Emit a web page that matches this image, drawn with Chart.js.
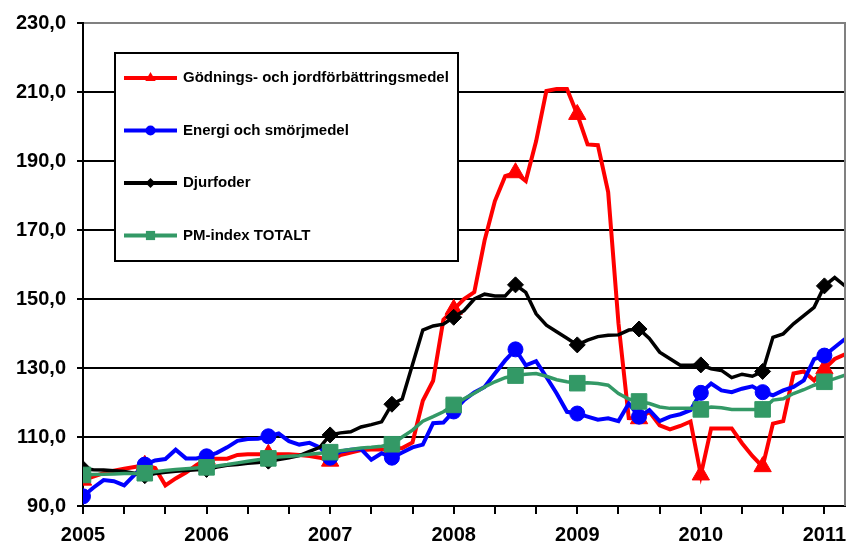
<!DOCTYPE html>
<html>
<head>
<meta charset="utf-8">
<title>Prisindex produktionsmedel</title>
<script src="https://cdn.jsdelivr.net/npm/chart.js@4.4.0/dist/chart.umd.min.js"></script>
<style>
  html, body { margin: 0; padding: 0; background: #fff; }
  #wrap { width: 851px; height: 544px; }
</style>
</head>
<body>
<div id="wrap"><canvas id="pmChart" width="851" height="544"></canvas></div>
<script>
(function() {

  // Monthly index values, Jan 2005 .. Mar 2011 (75 months)
  const yearLabels = ["2005", "2006", "2007", "2008", "2009", "2010", "2011"];
  const seriesNames = [
    "Gödnings- och jordförbättringsmedel",
    "Energi och smörjmedel",
    "Djurfoder",
    "PM-index TOTALT"
  ];

  const godning = [
    97.5, 98.5, 99.5, 100.2, 100.8, 101.3, 101.8, 101.0, 96.0, 98.0, 99.7, 101.8,
    103.6, 103.7, 103.7, 104.8, 105.0, 105.0, 105.0, 105.0, 105.0, 104.8, 104.5, 104.0,
    103.0, 104.8, 105.5, 106.2, 106.4, 106.4, 106.4, 106.8, 108.4, 120.5, 126.3, 144.0,
    147.0, 150.0, 152.0, 167.0, 178.4, 185.6, 186.6, 184.2, 195.7, 210.3, 210.9, 210.9,
    203.5, 194.8, 194.6, 181.0, 143.0, 115.5, 115.3, 117.3, 113.4, 112.2, 113.2, 114.5,
    99.0, 112.5, 112.5, 112.5, 108.2, 104.5, 101.4, 113.9, 114.6, 128.4, 129.0, 126.4,
    129.8, 132.6, 134.0
  ];

  const energi = [
    92.8, 95.3, 97.5, 97.2, 96.0, 99.0, 102.0, 103.2, 103.6, 106.3, 103.8, 103.8,
    104.4, 105.4, 107.0, 108.9, 109.4, 109.5, 110.2, 111.0, 108.8, 107.8, 108.3, 107.0,
    104.0, 105.8, 106.3, 106.5, 103.4, 105.3, 104.0, 105.5, 107.0, 107.8, 114.0, 114.2,
    117.4, 120.7, 122.9, 124.5, 128.4, 132.2, 135.4, 130.8, 132.0, 127.4, 122.6, 117.3,
    116.8, 115.9, 115.0, 115.4, 114.6, 119.7, 115.9, 117.8, 114.6, 115.9, 116.6, 117.8,
    122.8, 125.5, 123.5, 123.0, 124.0, 124.7, 123.0, 122.1, 123.5, 124.5, 126.4, 132.6,
    133.6, 136.0, 138.4
  ];

  const djurfoder = [
    100.8, 100.5, 100.4, 100.2, 100.0, 99.5, 98.8, 99.4, 99.8, 100.1, 100.3, 100.5,
    100.6, 101.3, 101.8, 102.0, 102.4, 102.6, 103.0, 103.5, 104.0, 104.6, 105.8, 107.0,
    110.6, 111.2, 111.5, 112.9, 113.6, 114.4, 119.5, 121.0, 131.0, 141.0, 142.2, 142.7,
    144.7, 146.6, 150.0, 151.4, 150.9, 150.9, 154.1, 151.9, 145.7, 142.4, 140.5, 138.6,
    136.7, 138.1, 139.1, 139.5, 139.6, 141.0, 141.3, 138.6, 134.6, 132.7, 130.8, 130.8,
    130.9, 129.8, 129.3, 127.2, 128.2, 127.6, 129.0, 138.9, 139.9, 142.8, 145.2, 147.6,
    153.8, 156.2, 153.8
  ];

  const pmTotalt = [
    99.0, 99.1, 99.2, 99.3, 99.4, 99.4, 99.5, 99.9, 100.3, 100.6, 100.8, 101.0,
    101.2, 101.6, 102.0, 102.5, 103.0, 103.4, 103.8, 104.2, 104.4, 104.6, 105.0, 105.3,
    105.6, 106.0, 106.4, 106.8, 107.0, 107.3, 107.9, 110.0, 112.0, 114.6, 115.9, 117.3,
    119.3, 121.1, 122.7, 124.5, 126.0, 127.2, 127.8, 128.2, 128.4, 127.6, 126.6, 126.0,
    125.6, 125.7, 125.5, 125.0, 122.6, 121.0, 120.3, 119.7, 118.7, 118.3, 118.3, 118.3,
    118.0, 118.7, 118.5, 118.0, 118.0, 118.0, 118.0, 120.7, 121.1, 122.6, 123.7, 125.0,
    126.0, 126.9, 127.9
  ];

  const yTicks = { min: 90, max: 230, step: 20 };
  const markerEvery = 6;   // a marker every half year
  const tickEvery = 4;     // small tick mark every 4 months

  const FONT = "'Liberation Sans', Arial, sans-serif";

  const styles = [
    { color: "#ff0000", point: "triangle", r: 10, lr: 6, width: 4 },
    { color: "#0000ff", point: "circle", r: 7.5, lr: 5, width: 4 },
    { color: "#000000", point: "rectRot", r: 8, lr: 5, width: 3.5 },
    { color: "#339966", point: "rect", r: 11, lr: 6.5, width: 3.5 }
  ];
  const values = [godning, energi, djurfoder, pmTotalt];

  const datasets = values.map((vals, k) => ({
    label: seriesNames[k],
    data: vals.map((v, i) => ({ x: i, y: v })),
    borderColor: styles[k].color,
    backgroundColor: styles[k].color,
    borderWidth: styles[k].width,
    pointStyle: styles[k].point,
    pointBackgroundColor: styles[k].color,
    pointBorderColor: styles[k].color,
    pointBorderWidth: 1,
    pointRadius: ctx => (ctx.dataIndex % markerEvery === 0 ? styles[k].r : 0),
    pointHoverRadius: 0,
    tension: 0,
    order: values.length - k   // first series drawn at the bottom
  }));

  function drawMarker(ctx, style, x, y, r) {
    ctx.beginPath();
    if (style === "triangle") {
      ctx.moveTo(x, y - r);
      ctx.lineTo(x + r * 0.866, y + r / 2);
      ctx.lineTo(x - r * 0.866, y + r / 2);
    } else if (style === "circle") {
      ctx.arc(x, y, r, 0, Math.PI * 2);
    } else if (style === "rectRot") {
      ctx.moveTo(x, y - r);
      ctx.lineTo(x + r, y);
      ctx.lineTo(x, y + r);
      ctx.lineTo(x - r, y);
    } else {
      ctx.rect(x - r * 0.707, y - r * 0.707, r * 1.414, r * 1.414);
    }
    ctx.closePath();
    ctx.fill();
  }

  // Boxed legend inside the plot area + grey plot border on the right
  const boxLegend = {
    id: "boxLegend",
    afterDraw(chart) {
      const ctx = chart.ctx;
      const area = chart.chartArea;
      ctx.save();

      ctx.strokeStyle = "#808080";
      ctx.lineWidth = 2;
      ctx.beginPath();
      ctx.moveTo(area.right, area.top - 1);
      ctx.lineTo(area.right, area.bottom);
      ctx.stroke();

      const bx = area.left + 32, by = area.top + 30, bw = 343, bh = 208;
      ctx.fillStyle = "#fff";
      ctx.fillRect(bx, by, bw, bh);
      ctx.strokeStyle = "#000";
      ctx.lineWidth = 2;
      ctx.strokeRect(bx, by, bw, bh);

      ctx.font = "bold 15px " + FONT;
      ctx.textBaseline = "middle";
      ctx.textAlign = "left";
      seriesNames.forEach((name, k) => {
        const y = by + 25 + k * 52.5;
        const st = styles[k];
        ctx.strokeStyle = st.color;
        ctx.fillStyle = st.color;
        ctx.lineWidth = 4;
        ctx.beginPath();
        ctx.moveTo(bx + 9, y);
        ctx.lineTo(bx + 62, y);
        ctx.stroke();
        drawMarker(ctx, st.point, bx + 35.5, y, st.lr);
        ctx.fillStyle = "#000";
        ctx.fillText(name, bx + 68, y);
      });
      ctx.restore();
    }
  };

  const tickFont = { family: FONT, size: 20, weight: "bold" };

  new Chart(document.getElementById("pmChart"), {
    type: "line",
    data: { datasets: datasets },
    plugins: [boxLegend],
    options: {
      responsive: false,
      animation: false,
      layout: { autoPadding: false, padding: { top: 21, right: 6, left: 0, bottom: 0 } },
      plugins: {
        legend: { display: false },
        tooltip: { enabled: false }
      },
      scales: {
        x: {
          type: "linear",
          min: 0,
          max: godning.length - 1,
          afterBuildTicks: scale => {
            const t = [];
            for (let v = 0; v < godning.length; v += tickEvery) t.push({ value: v });
            scale.ticks = t;
          },
          afterFit: scale => {
            scale.height = 38;
            // the last year label may hang over the right edge
            scale.paddingRight = 0;
          },
          ticks: {
            autoSkip: false,
            maxRotation: 0,
            padding: 9,
            color: "#000",
            font: tickFont,
            callback: v => (v % 12 === 0 ? yearLabels[v / 12] : "")
          },
          grid: {
            drawOnChartArea: false,
            tickLength: 8,
            color: "#000",
            lineWidth: 2
          },
          border: { color: "#000", width: 2 }
        },
        y: {
          min: yTicks.min,
          max: yTicks.max,
          afterFit: scale => { scale.width = 83; },
          ticks: {
            stepSize: yTicks.step,
            padding: 11,
            color: "#000",
            font: tickFont,
            callback: v => v.toFixed(1).replace(".", ",")
          },
          grid: {
            color: c => (c.tick && c.tick.value === yTicks.max ? "#808080" : "#000"),
            tickColor: "#000",
            lineWidth: 2,
            tickLength: 6
          },
          border: { color: "#000", width: 2 }
        }
      }
    }
  });

})();
</script>
</body>
</html>
